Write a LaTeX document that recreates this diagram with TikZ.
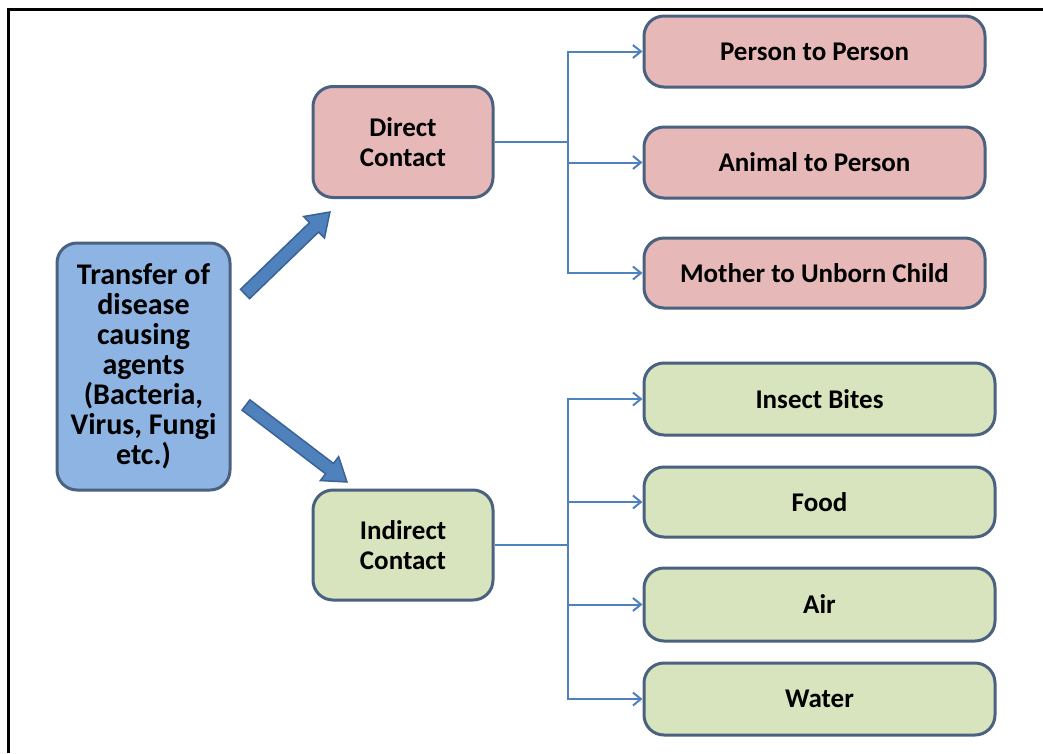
\documentclass[tikz,border=0pt]{standalone}
\usepackage{fontspec}
\setmainfont{Carlito}
\usetikzlibrary{arrows.meta,calc}
\definecolor{pinkfill}{HTML}{E6B9B8}
\definecolor{greenfill}{HTML}{D7E4BD}
\definecolor{bluefill}{HTML}{8DB4E2}
\definecolor{boxedge}{HTML}{4A6180}
\definecolor{linecol}{HTML}{4F81BD}
\definecolor{arrowfill}{HTML}{4F81BD}
\definecolor{arrowedge}{HTML}{3A6394}
\tikzset{
  box/.style={draw=boxedge, line width=3pt, rounded corners=20pt, align=center,
    font=\fontsize{27}{30}\selectfont\bfseries, text=black, inner sep=0pt},
  pinkbox/.style={box, fill=pinkfill},
  greenbox/.style={box, fill=greenfill},
  bluebox/.style={box, fill=bluefill, font=\fontsize{30}{30}\selectfont\bfseries},
  conn/.style={draw=linecol, line width=2pt},
  arr/.style={conn, -{Straight Barb[length=8pt,width=13pt,line width=2pt]}},
  blockarrow/.style={fill=arrowfill, draw=arrowedge, line width=1.5pt, line join=miter}
}
\begin{document}
\begin{tikzpicture}[x=1pt,y=-1pt]
\useasboundingbox (0,0) rectangle (1043,753);
\fill[white] (0,0) rectangle (1043,753);
\draw[line width=3pt, black] (8.5,753) -- (8.5,9.5) -- (1043,9.5);

\node[bluebox, minimum width=173pt, minimum height=247pt] (main) at (143.5,366.5)
  {Transfer of\\disease\\causing\\agents\\(Bacteria,\\Virus, Fungi\\etc.)};
\node[pinkbox, minimum width=180pt, minimum height=111pt] (direct) at (403,142) {Direct\\Contact};
\node[greenbox, minimum width=180pt, minimum height=110pt] (indirect) at (403,545) {Indirect\\Contact};

\node[pinkbox, minimum width=341pt, minimum height=71pt] (p2p) at (814.5,51.5) {Person to Person};
\node[pinkbox, minimum width=341pt, minimum height=71pt] (a2p) at (814.5,162.5) {Animal to Person};
\node[pinkbox, minimum width=341pt, minimum height=70pt] (m2c) at (814.5,273) {Mother to Unborn Child};

\node[greenbox, minimum width=351pt, minimum height=72pt] (insect) at (819.5,399) {Insect Bites};
\node[greenbox, minimum width=351pt, minimum height=70pt] (food) at (819.5,502) {Food};
\node[greenbox, minimum width=351pt, minimum height=73pt] (air) at (819.5,604.5) {Air};
\node[greenbox, minimum width=351pt, minimum height=72pt] (water) at (819.5,699) {Water};

% connectors
\coordinate (dj) at (568,142);
\coordinate (ij) at (568,545);
\draw[conn] (direct.east) -- (dj);
\draw[arr] (dj) |- (p2p.west);
\draw[arr] (dj) |- (a2p.west);
\draw[arr] (dj) |- (m2c.west);
\draw[conn] (indirect.east) -- (ij);
\draw[arr] (ij) |- (insect.west);
\draw[arr] (ij) |- (food.west);
\draw[arr] (ij) |- (air.west);
\draw[arr] (ij) |- (water.west);

% block arrows
\begin{scope}[shift={(245,294)}, rotate=44]
  \draw[blockarrow] (0,-6.5) -- (96,-6.5) -- (96,-15) -- (118,0) -- (96,15) -- (96,6.5) -- (0,6.5) -- cycle;
\end{scope}
\begin{scope}[shift={(246,405)}, rotate=-37.3]
  \draw[blockarrow] (0,-6.5) -- (105,-6.5) -- (105,-15) -- (127,0) -- (105,15) -- (105,6.5) -- (0,6.5) -- cycle;
\end{scope}
\end{tikzpicture}
\end{document}
